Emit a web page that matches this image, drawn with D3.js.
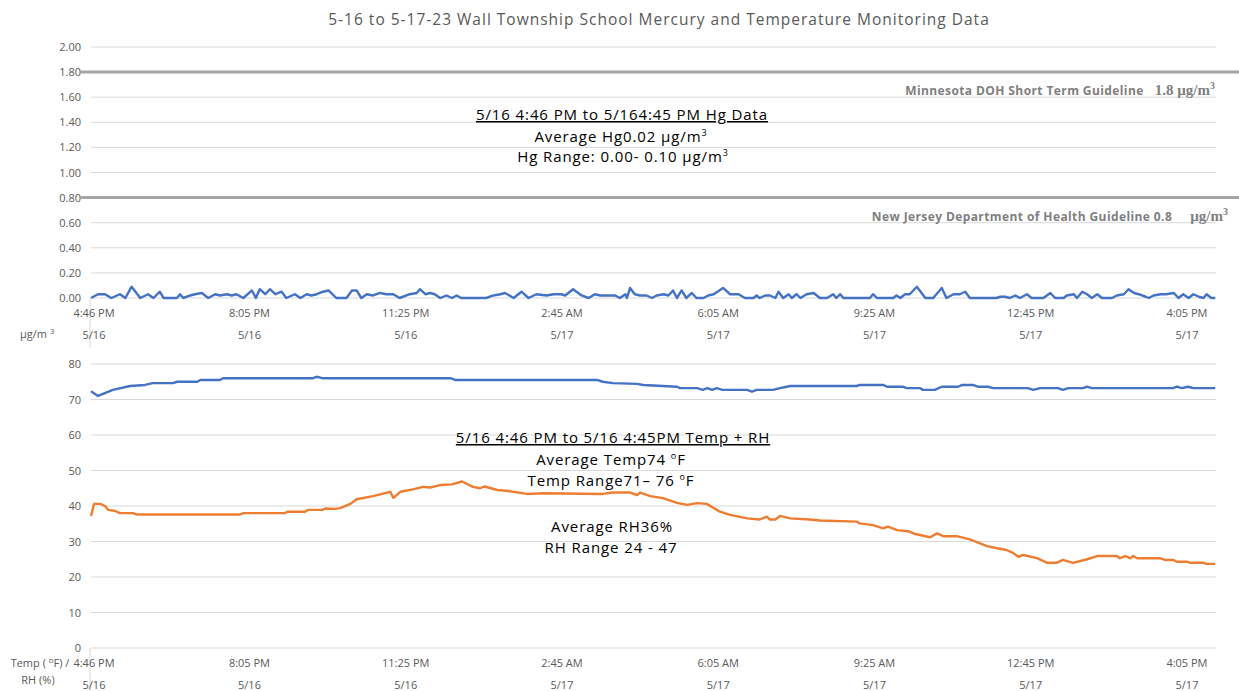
<!DOCTYPE html>
<meta charset="utf-8">
<script src="https://d3js.org/d3.v7.min.js"></script>
<style>
body { margin: 0; background: #fff; }
text { font-family: "Open Sans", sans-serif; }
</style>
<div id="chart"></div>
<script>

// x axis categories (minutes after 5/16 4:46 PM)
var tickMinutes = [0, 199, 399, 599, 799, 999, 1199, 1399];
var timeLabels = ["4:46 PM", "8:05 PM", "11:25 PM", "2:45 AM", "6:05 AM", "9:25 AM", "12:45 PM", "4:05 PM"];
var dateLabels = ["5/16", "5/16", "5/16", "5/17", "5/17", "5/17", "5/17", "5/17"];

var hgTicks = [0, 0.2, 0.4, 0.6, 0.8, 1.0, 1.2, 1.4, 1.6, 1.8, 2.0];
var tempTicks = [0, 10, 20, 30, 40, 50, 60, 70, 80];

// guideline values (ug/m3)
var guideValues = [1.8, 0.8];
var guideNames = ["Minnesota DOH Short Term Guideline", "New Jersey Department of Health Guideline 0.8"];
var guideUnits = ["1.8 \u00b5g/m", "\u00b5g/m"];

// mercury readings [minute, ug/m3]
var hgReadings = [
  [0,0],[9,0.03],[18,0.03],[26,0],[37,0.03],[44,0],[52,0.09],[63,0],[73,0.03],[80,0],[88,0.05],[93,0],
  [110,0],[114,0.03],[118,0],[127,0.02],[133,0.03],[142,0.04],[150,0],[159,0.03],[165,0.02],[174,0.03],
  [180,0.02],[186,0.03],[195,0],[206,0.06],[211,0],[216,0.07],[223,0.03],[229,0.07],[236,0.03],[244,0.05],
  [250,0],[261,0.03],[268,0],[276,0.03],[282,0.02],[289,0.03],[297,0.05],[304,0.06],[314,0],[327,0],
  [334,0.06],[340,0.06],[346,0],[353,0.03],[361,0.02],[370,0.04],[378,0.03],[387,0.03],[395,0],[408,0.03],
  [417,0.04],[421,0.07],[428,0.03],[434,0.04],[440,0.03],[447,0],[455,0.02],[462,0],[468,0.02],[474,0],
  [506,0],[515,0.02],[524,0.03],[530,0.04],[541,0],[551,0.05],[560,0],[570,0.03],[583,0.02],[592,0.03],
  [602,0.03],[607,0.02],[617,0.07],[628,0.02],[637,0],[645,0.03],[652,0.02],[671,0.02],[677,0],[684,0.03],
  [686,0],[690,0.08],[696,0.03],[703,0.02],[711,0.02],[718,0],[724,0.02],[733,0.03],[739,0.02],[745,0.06],
  [750,0],[756,0.06],[762,0],[769,0.04],[775,0],[784,0],[790,0.02],[797,0.03],[809,0.08],[818,0.03],
  [829,0.03],[837,0],[848,0],[852,0.02],[856,0],[863,0.02],[869,0.02],[876,0],[880,0.05],[886,0],
  [893,0.03],[897,0],[903,0.03],[908,0],[916,0.03],[925,0.04],[933,0],[942,0],[950,0.03],[954,0],
  [959,0.03],[963,0],[997,0],[1001,0.03],[1006,0],[1027,0],[1031,0.02],[1036,0],[1042,0.03],[1048,0.03],
  [1057,0.09],[1068,0],[1078,0],[1089,0.08],[1095,0],[1104,0.03],[1112,0.03],[1119,0.05],[1125,0],
  [1159,0],[1164,0.01],[1170,0.01],[1176,0],[1183,0.02],[1189,0],[1198,0.03],[1204,0],[1219,0],
  [1228,0.04],[1234,0],[1245,0],[1249,0.02],[1258,0.03],[1262,0],[1269,0.05],[1275,0.03],[1281,0],
  [1288,0.03],[1294,0],[1307,0],[1313,0.02],[1322,0.03],[1328,0.07],[1335,0.04],[1341,0.03],[1350,0.01],
  [1354,0],[1360,0.02],[1369,0.03],[1376,0.03],[1386,0.04],[1392,0],[1398,0.03],[1405,0],[1411,0.03],
  [1418,0.01],[1424,0],[1428,0.03],[1434,0],[1439,0]
];

// temperature readings [minute, deg F]
var tempReadings = [
  [0,72.3],[9,71.0],[28,72.7],[50,73.8],[69,74.1],[79,74.6],[105,74.6],[110,75.0],[136,75.0],[140,75.5],
  [165,75.5],[169,76.0],[284,76.0],[289,76.4],[296,76.0],[460,76.0],[466,75.5],[648,75.5],[655,75.0],
  [668,74.6],[699,74.4],[707,74.1],[750,73.6],[754,73.2],[776,73.2],[783,72.7],[789,73.2],[795,72.7],
  [801,73.2],[808,72.7],[840,72.7],[846,72.2],[852,72.7],[873,72.7],[882,73.2],[895,73.8],[980,73.8],
  [984,74.1],[1014,74.1],[1019,73.6],[1039,73.6],[1044,73.2],[1061,73.2],[1065,72.7],[1080,72.7],
  [1089,73.6],[1110,73.6],[1115,74.1],[1129,74.1],[1135,73.6],[1148,73.6],[1155,73.2],[1199,73.2],
  [1206,72.7],[1215,73.2],[1238,73.2],[1244,72.7],[1251,73.2],[1270,73.2],[1275,73.6],[1281,73.2],
  [1385,73.2],[1390,73.6],[1396,73.2],[1404,73.6],[1411,73.2],[1439,73.2]
];

// relative humidity readings [minute, %]
var rhReadings = [
  [0,37.2],[4,40.6],[12,40.6],[18,40.0],[22,38.9],[31,38.6],[37,38.0],[54,38.0],[59,37.6],[191,37.6],
  [195,38.0],[248,38.0],[252,38.4],[274,38.4],[278,38.9],[296,38.9],[300,39.3],[312,39.2],[319,39.4],
  [332,40.6],[340,41.9],[361,42.8],[383,44.0],[387,42.3],[396,44.0],[412,44.7],[425,45.4],[434,45.2],
  [447,45.9],[462,46.1],[475,46.9],[489,45.4],[498,45.0],[504,45.5],[520,44.5],[532,44.3],[558,43.4],
  [579,43.6],[655,43.4],[668,43.8],[690,43.8],[699,43.1],[703,43.8],[716,42.8],[732,42.2],[750,40.9],
  [763,40.3],[776,40.8],[788,40.6],[805,38.4],[818,37.5],[840,36.5],[856,36.2],[865,37.0],[869,36.2],
  [876,36.2],[882,37.2],[895,36.5],[920,36.2],[933,35.9],[980,35.6],[984,35.1],[1001,34.6],[1014,33.7],
  [1020,34.2],[1032,33.2],[1048,32.8],[1055,32.1],[1074,31.2],[1083,32.3],[1091,31.5],[1108,31.5],
  [1125,30.6],[1147,28.7],[1160,28.1],[1172,27.6],[1180,26.8],[1187,25.7],[1193,26.2],[1211,25.3],
  [1224,24.0],[1236,24.0],[1244,24.8],[1257,24.0],[1275,25.0],[1288,25.9],[1313,25.9],[1317,25.3],
  [1324,25.9],[1330,25.3],[1334,25.9],[1339,25.3],[1368,25.3],[1375,24.8],[1385,24.8],[1390,24.3],
  [1403,24.3],[1407,24.0],[1424,24.0],[1428,23.7],[1439,23.7]
];

var width = 1239, height = 691;
var grid = "#d9d9d9", axisText = "#595959";

var svg = d3.select("#chart").append("svg")
  .attr("width", width)
  .attr("height", height);

var x = d3.scaleLinear().domain([0, 1440]).range([91, 1216]);
var yHg = d3.scaleLinear().domain([0, 2]).range([298, 47]);
var yT = d3.scaleLinear().domain([0, 80]).range([648, 364]);

// title
svg.append("text")
  .attr("x", 659).attr("y", 25)
  .attr("text-anchor", "middle")
  .style("font-size", "15.5px")
  .style("letter-spacing", "1px")
  .style("fill", axisText)
  .text("5-16 to 5-17-23 Wall Township School Mercury and Temperature Monitoring Data");

// draw one panel: gridlines, y labels, x axis
function panel(y, ticks, fmt) {
  svg.append("g").selectAll("line")
    .data(ticks)
    .enter().append("line")
      .attr("x1", x(0)).attr("x2", x(1440))
      .attr("y1", function(d) { return y(d); })
      .attr("y2", function(d) { return y(d); })
      .attr("stroke", grid)
      .attr("stroke-width", 1);

  svg.append("g").selectAll("text")
    .data(ticks)
    .enter().append("text")
      .attr("x", 81)
      .attr("y", function(d) { return y(d) + 4; })
      .attr("text-anchor", "end")
      .style("font-size", "11px")
      .style("fill", axisText)
      .text(fmt);

  var base = y(0);
  svg.append("line")
    .attr("x1", 90).attr("x2", 90)
    .attr("y1", base).attr("y2", base + 50)
    .attr("stroke", grid);

  var g = svg.append("g");
  g.selectAll(".time")
    .data(tickMinutes)
    .enter().append("text")
      .attr("x", function(d) { return x(d) + 3; })
      .attr("y", base + 19)
      .attr("text-anchor", "middle")
      .style("font-size", "11px")
      .style("fill", axisText)
      .text(function(d, i) { return timeLabels[i]; });
  g.selectAll(".date")
    .data(tickMinutes)
    .enter().append("text")
      .attr("x", function(d) { return x(d) + 3; })
      .attr("y", base + 41)
      .attr("text-anchor", "middle")
      .style("font-size", "11px")
      .style("fill", axisText)
      .text(function(d, i) { return dateLabels[i]; });
}

panel(yHg, hgTicks, d3.format(".2f"));
panel(yT, tempTicks, d3.format("d"));

// guideline lines
svg.append("g").selectAll("line")
  .data(guideValues)
  .enter().append("line")
    .attr("x1", 80).attr("x2", width)
    .attr("y1", function(d) { return yHg(d); })
    .attr("y2", function(d) { return yHg(d); })
    .attr("stroke", "#a6a6a6")
    .attr("stroke-width", 3);

var glabels = svg.append("g").selectAll("text")
  .data(guideValues)
  .enter().append("text")
    .attr("x", function(d, i) { return i == 0 ? 1215 : 1228; })
    .attr("y", function(d) { return yHg(d) + 23; })
    .attr("text-anchor", "end")
    .style("fill", "#7f7f7f")
    .style("font-weight", "bold");
glabels.append("tspan")
  .style("font-size", "12px")
  .style("letter-spacing", "0.4px")
  .text(function(d, i) { return guideNames[i]; });
glabels.append("tspan")
  .attr("dx", function(d, i) { return i == 0 ? 11 : 18; })
  .style("font-family", "Liberation Serif, serif")
  .style("font-size", "15px")
  .text(function(d, i) { return guideUnits[i]; });
glabels.append("tspan")
  .attr("dy", -6)
  .style("font-family", "Liberation Serif, serif")
  .style("font-size", "10px")
  .text("3");

// series
var line = function(y) {
  return d3.line().x(function(d) { return x(d[0]); }).y(function(d) { return y(d[1]); });
};

svg.append("path")
  .datum(hgReadings)
  .attr("d", line(yHg))
  .attr("fill", "none")
  .attr("stroke", "#4472c4")
  .attr("stroke-width", 2.4)
  .attr("stroke-linejoin", "round");

svg.append("path")
  .datum(tempReadings)
  .attr("d", line(yT))
  .attr("fill", "none")
  .attr("stroke", "#4472c4")
  .attr("stroke-width", 2.4)
  .attr("stroke-linejoin", "round");

svg.append("path")
  .datum(rhReadings)
  .attr("d", line(yT))
  .attr("fill", "none")
  .attr("stroke", "#ed7d31")
  .attr("stroke-width", 2.4)
  .attr("stroke-linejoin", "round");

// axis unit labels
var u = svg.append("text")
  .attr("x", 20).attr("y", 338)
  .style("font-size", "11px")
  .style("fill", axisText);
u.append("tspan").text("\u00b5g/m ");
u.append("tspan").attr("dy", -4).style("font-size", "8px").text("3");

var t = svg.append("text")
  .attr("x", 40).attr("y", 667)
  .attr("text-anchor", "middle")
  .style("font-size", "11px")
  .style("fill", axisText);
t.append("tspan").text("Temp ( ");
t.append("tspan").attr("dy", -4).style("font-size", "8px").text("o");
t.append("tspan").attr("dy", 4).text("F) /");
svg.append("text")
  .attr("x", 38).attr("y", 684)
  .attr("text-anchor", "middle")
  .style("font-size", "11px")
  .style("fill", axisText)
  .text("RH (%)");

// annotation text boxes
function note(cx, cy, parts, underline) {
  var el = svg.append("text")
    .attr("x", cx).attr("y", cy)
    .attr("text-anchor", "middle")
    .style("font-size", "15px")
    .style("letter-spacing", "0.9px")
    .style("fill", "#000");
  if (underline) el.style("text-decoration", "underline");
  var shift = 0;
  parts.forEach(function(p) {
    if (typeof p === "string") {
      el.append("tspan").attr("dy", shift).text(p);
      shift = 0;
    } else {
      el.append("tspan").attr("dy", -6).style("font-size", "9px").text(p.sup);
      shift = 6;
    }
  });
}

note(622, 120, ["5/16 4:46 PM to 5/164:45 PM Hg Data"], true);
note(621, 142, ["Average Hg0.02 \u00b5g/m", {sup: "3"}]);
note(623, 162, ["Hg Range: 0.00- 0.10 \u00b5g/m", {sup: "3"}]);

note(613, 443, ["5/16 4:46 PM to 5/16 4:45PM Temp + RH"], true);
note(611, 465, ["Average Temp74 ", {sup: "o"}, "F"]);
note(611, 486, ["Temp Range71\u2013 76 ", {sup: "o"}, "F"]);
note(612, 532, ["Average RH36%"]);
note(611, 553, ["RH Range 24 - 47"]);

</script>
